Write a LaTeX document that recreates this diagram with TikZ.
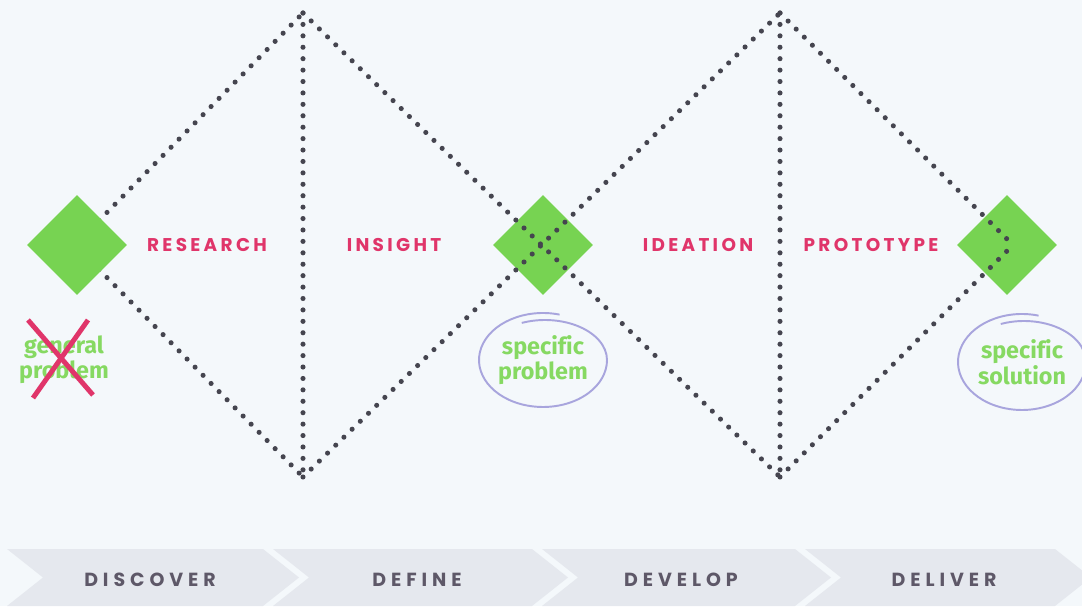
\documentclass[tikz,border=0pt]{standalone}
\usepackage{fontspec}
\usetikzlibrary{shapes.geometric}
\newfontfamily\phasefont[LetterSpace=18]{Poppins}
\newfontfamily\stagefont[LetterSpace=26]{Poppins}
\newfontfamily\notefont[Ligatures=NoCommon]{Fira Sans}
\definecolor{paper}{HTML}{F4F8FB}
\definecolor{gemgreen}{HTML}{77D352}
\definecolor{notegreen}{HTML}{86D962}
\definecolor{phasepink}{HTML}{E0356A}
\definecolor{dotgrey}{HTML}{45454F}
\definecolor{ringlav}{HTML}{A8A5DD}
\definecolor{barfill}{HTML}{E5E8EE}
\definecolor{stagegrey}{HTML}{5E5868}

\begin{document}
\begin{tikzpicture}[x=0.02cm,y=0.02cm,
  gem/.style={diamond,fill=gemgreen,minimum width=2cm,minimum height=2cm,inner sep=0pt},
  phase/.style={text=phasepink,font=\phasefont\bfseries\fontsize{10.5}{12}\selectfont},
  outcome/.style={text=notegreen,align=center,font=\notefont\bfseries\fontsize{13.3}{13}\selectfont},
  stage/.style={text=stagegrey,font=\stagefont\bfseries\fontsize{10.8}{12}\selectfont},
  dots/.style={draw=dotgrey,line width=2.9pt,line cap=round,dash pattern=on 0pt off 6.5pt},
  ring/.style={draw=ringlav,line width=1.1pt},
  strike/.style={draw=phasepink,line width=2.8pt}]
  \fill[paper] (0,0) rectangle (1082,606);
  \useasboundingbox (0,0) rectangle (1082,606);

  % phase bar
  \foreach \a/\b in {7/263,273/532,542/795,805/1055}
    \fill[barfill] (\a,57) -- (\b,57) -- ++(36,-28.5) -- (\b,0) -- (\a,0) -- ++(36,28.5) -- cycle;
  \node[stage] (discover) at (150,26) {DISCOVER};
  \node[stage] (define) at (417,26) {DEFINE};
  \node[stage] (develop) at (681,26) {DEVELOP};
  \node[stage] (deliver) at (944,26) {DELIVER};

  % double diamond
  \coordinate (left1) at (75,361);
  \coordinate (top1) at (303,593);
  \coordinate (bot1) at (303,129);
  \coordinate (top2) at (780,593);
  \coordinate (bot2) at (780,129);
  \coordinate (right2) at (1013,361);

  \node[gem] (problem) at (543,361) {};
  \node[gem] (solution) at (1007,361) {};

\path[dots]
  (left1) edge (top1)
  (left1) edge (bot1)
  (top1) edge (bot1)
  (top1) edge (bot2)
  (bot1) edge (top2)
  (top2) edge (bot2)
  (top2) edge (right2)
  (bot2) edge (right2)
;

  \node[gem] (start) at (77,361) {};

  \node[phase] (research) at (207,361) {RESEARCH};
  \node[phase] (insight) at (394,361) {INSIGHT};
  \node[phase] (ideation) at (698,361) {IDEATION};
  \node[phase] (prototype) at (871,361) {PROTOTYPE};

  \node[outcome] (general) at (64,246) {general\\problem};
  \node[outcome] (specprob) at (543,246) {specific\\problem};
  \node[outcome] (specsol) at (1022,244) {specific\\solution};

  \draw[strike] ([shift={(-36,40)}]general.center) -- ([shift={(29,-35)}]general.center);
  \draw[strike] ([shift={(24,40)}]general.center) -- ([shift={(-31,-38)}]general.center);

  \draw[ring] ([shift={(75:64 and 47)}]specprob.center) arc[start angle=75,end angle=360,x radius=64,y radius=47]
    arc[start angle=0,end angle=112,x radius=62,y radius=40];
  \draw[ring] ([shift={(75:64 and 48)}]specsol.center) arc[start angle=75,end angle=360,x radius=64,y radius=48]
    arc[start angle=0,end angle=112,x radius=62,y radius=41];
\end{tikzpicture}
\end{document}
